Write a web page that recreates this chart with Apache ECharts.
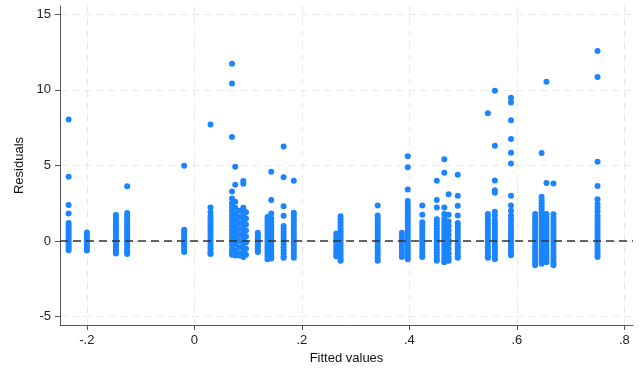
<!DOCTYPE html>
<html>
<head>
<meta charset="utf-8">
<script src="https://cdn.jsdelivr.net/npm/echarts@6/dist/echarts.min.js"></script>
<style>
  html, body { margin: 0; padding: 0; background: #fff; }
  #chart { width: 642px; height: 371px; }
</style>
</head>
<body>
<div id="chart"></div>
<script>
// Fitted value of each group of observations
const fittedValues = [
  -0.234, -0.2, -0.146, -0.125, -0.019, 0.03,
  0.07, 0.076, 0.083, 0.091, 0.096,
  0.118, 0.136, 0.143, 0.166, 0.185,
  0.264, 0.272, 0.341, 0.386, 0.397, 0.424,
  0.451, 0.465, 0.473, 0.49,
  0.546, 0.559, 0.589, 0.634, 0.646, 0.655, 0.668, 0.75
];

// Residuals observed at each fitted value (same order as fittedValues)
const residualGroups = [
  [8.05, 4.25, 2.38, 1.82, 1.2, 1.05, 0.9, 0.75, 0.6, 0.45, 0.3, 0.15, 0.0, -0.15, -0.3, -0.45, -0.6],
  [0.57, 0.4, 0.25, 0.1, -0.05, -0.2, -0.35, -0.5, -0.62],
  [1.72, 1.55, 1.4, 1.25, 1.1, 0.95, 0.8, 0.65, 0.5, 0.35, 0.2, 0.05, -0.1, -0.25, -0.4, -0.55, -0.7, -0.82],
  [3.62, 1.85, 1.7, 1.55, 1.35, 1.2, 1.05, 0.9, 0.75, 0.6, 0.45, 0.3, 0.15, 0.0, -0.15, -0.3, -0.45, -0.6, -0.75, -0.85],
  [4.98, 0.75, 0.6, 0.45, 0.3, 0.15, 0.0, -0.15, -0.3, -0.45, -0.6, -0.72],
  [7.72, 2.22, 1.9, 1.65, 1.45, 1.25, 1.05, 0.85, 0.65, 0.45, 0.25, 0.05, -0.15, -0.35, -0.55, -0.75, -0.85],
  [11.73, 10.43, 6.88, 3.28, 2.82, 2.5, 2.25, 2.0, 1.75, 1.5, 1.25, 1.0, 0.75, 0.5, 0.25, 0.0, -0.25, -0.5, -0.75, -0.9],
  [4.91, 3.72, 2.6, 2.2, 1.8, 1.4, 1.0, 0.6, 0.2, -0.2, -0.6, -0.95],
  [2.0, 1.6, 1.2, 0.8, 0.4, 0.0, -0.4, -0.8, -0.95],
  [3.97, 3.8, 2.2, 2.05, 1.8, 1.55, 1.3, 1.05, 0.8, 0.55, 0.3, 0.05, -0.2, -0.45, -0.7, -0.95, -1.05],
  [1.9, 1.5, 1.1, 0.7, 0.3, -0.1, -0.5, -0.9],
  [0.55, 0.4, 0.25, 0.1, -0.05, -0.2, -0.35, -0.5, -0.65, -0.72],
  [1.6, 1.4, 1.2, 1.0, 0.8, 0.6, 0.4, 0.2, 0.0, -0.2, -0.4, -0.6, -0.8, -1.0, -1.2],
  [4.58, 2.71, 1.83, 1.5, 1.3, 1.1, 0.9, 0.7, 0.5, 0.3, 0.1, -0.1, -0.3, -0.5, -0.7, -0.9, -1.1, -1.15],
  [6.26, 4.23, 2.31, 1.67, 1.0, 0.8, 0.6, 0.4, 0.2, 0.0, -0.2, -0.4, -0.6, -0.8, -1.0, -1.1],
  [3.99, 1.87, 1.7, 1.5, 1.3, 1.1, 0.9, 0.7, 0.5, 0.3, 0.1, -0.1, -0.3, -0.5, -0.7, -0.9, -1.1],
  [0.5, 0.3, 0.1, -0.1, -0.3, -0.5, -0.7, -0.9, -1.0],
  [1.65, 1.45, 1.25, 1.05, 0.85, 0.65, 0.45, 0.25, 0.05, -0.15, -0.35, -0.55, -0.75, -0.95, -1.15, -1.3],
  [2.36, 1.7, 1.5, 1.3, 1.1, 0.9, 0.7, 0.5, 0.3, 0.1, -0.1, -0.3, -0.5, -0.7, -0.9, -1.1, -1.3],
  [0.55, 0.35, 0.15, -0.05, -0.25, -0.45, -0.65, -0.85, -1.05],
  [5.62, 4.89, 3.42, 2.65, 2.4, 2.2, 2.0, 1.8, 1.6, 1.4, 1.2, 1.0, 0.8, 0.6, 0.4, 0.2, 0.0, -0.2, -0.4, -0.6, -0.8, -1.0, -1.2],
  [2.36, 1.74, 1.25, 1.05, 0.85, 0.65, 0.45, 0.25, 0.05, -0.15, -0.35, -0.55, -0.75, -0.95, -1.05],
  [3.99, 2.71, 2.23, 1.45, 1.25, 1.05, 0.85, 0.65, 0.45, 0.25, 0.05, -0.15, -0.35, -0.55, -0.75, -0.95, -1.15, -1.3],
  [5.42, 4.52, 2.23, 1.8, 1.5, 1.3, 1.1, 0.9, 0.7, 0.5, 0.3, 0.1, -0.1, -0.3, -0.5, -0.7, -0.9, -1.1, -1.3, -1.4],
  [3.1, 1.74, 1.3, 1.0, 0.7, 0.4, 0.1, -0.2, -0.5, -0.8, -1.1, -1.3],
  [4.39, 3.0, 2.34, 1.7, 1.2, 1.0, 0.8, 0.6, 0.4, 0.2, 0.0, -0.2, -0.4, -0.6, -0.8, -1.0, -1.1],
  [8.45, 1.79, 1.6, 1.4, 1.2, 1.0, 0.8, 0.6, 0.4, 0.2, 0.0, -0.2, -0.4, -0.6, -0.8, -1.0, -1.1],
  [9.94, 6.3, 4.01, 3.37, 3.2, 1.94, 1.7, 1.4, 1.2, 1.0, 0.8, 0.6, 0.4, 0.2, 0.0, -0.2, -0.4, -0.6, -0.8, -1.0, -1.2],
  [9.48, 9.17, 8.0, 6.75, 5.84, 5.14, 3.0, 2.36, 2.0, 1.7, 1.45, 1.2, 0.95, 0.75, 0.55, 0.35, 0.15, -0.05, -0.25, -0.45, -0.65, -0.8, -0.93],
  [1.79, 1.6, 1.4, 1.2, 1.0, 0.8, 0.6, 0.4, 0.2, 0.0, -0.2, -0.4, -0.6, -0.8, -1.0, -1.2, -1.4, -1.6],
  [5.82, 2.93, 2.7, 2.5, 2.3, 2.1, 1.9, 1.7, 1.5, 1.3, 1.1, 0.9, 0.7, 0.5, 0.3, 0.1, -0.1, -0.3, -0.5, -0.7, -0.9, -1.1, -1.3, -1.5],
  [10.54, 3.84, 1.8, 1.6, 1.4, 1.2, 1.0, 0.8, 0.6, 0.4, 0.2, 0.0, -0.2, -0.4, -0.6, -0.8, -1.0, -1.2, -1.4],
  [3.81, 1.77, 1.55, 1.35, 1.15, 0.95, 0.75, 0.55, 0.35, 0.15, -0.05, -0.25, -0.45, -0.65, -0.85, -1.05, -1.25, -1.45, -1.6],
  [12.57, 10.85, 5.25, 3.64, 2.77, 2.45, 2.2, 1.95, 1.7, 1.5, 1.3, 1.1, 0.9, 0.7, 0.5, 0.3, 0.1, -0.1, -0.3, -0.5, -0.7, -0.9, -1.05]
];

// Axis tick positions
const xTicks = [-0.2, 0, 0.2, 0.4, 0.6, 0.8];
const yTicks = [-5, 0, 5, 10, 15];

const points = [];
fittedValues.forEach((fx, i) => {
  residualGroups[i].forEach(r => points.push([fx, r]));
});

// Stata-style number labels: leading zero dropped (".2", "-.2")
function stataFmt(v) {
  const s = String(Math.round(v * 1000) / 1000);
  return s.replace(/^(-?)0\./, '$1.');
}

const font = '"Liberation Sans", Arial, Helvetica, sans-serif';
const gridLine = { show: true, lineStyle: { color: '#e9e9e9', width: 1, type: [7, 5] } };

const chart = echarts.init(document.getElementById('chart'), null, { renderer: 'canvas' });
chart.setOption({
  animation: false,
  backgroundColor: '#fff',
  grid: { left: 60, right: 9, top: 6, bottom: 46, containLabel: false },
  xAxis: {
    type: 'value',
    min: -0.25,
    max: 0.816,
    name: 'Fitted values',
    nameLocation: 'middle',
    nameGap: 26,
    nameTextStyle: { color: '#111', fontSize: 13, fontFamily: font },
    axisLine: { show: true, onZero: false, lineStyle: { color: '#555', width: 1 } },
    axisTick: { show: true, length: 5, customValues: xTicks, lineStyle: { color: '#555' } },
    axisLabel: { customValues: xTicks, formatter: stataFmt, color: '#222', fontSize: 13, fontFamily: font, margin: 9 },
    splitLine: gridLine
  },
  yAxis: {
    type: 'value',
    min: -5.55,
    max: 15.55,
    name: 'Residuals',
    nameLocation: 'middle',
    nameGap: 31,
    nameRotate: 90,
    nameTextStyle: { color: '#111', fontSize: 13, fontFamily: font },
    axisLine: { show: true, onZero: false, lineStyle: { color: '#555', width: 1 } },
    axisTick: { show: true, length: 5, customValues: yTicks, lineStyle: { color: '#555' } },
    axisLabel: { customValues: yTicks, formatter: stataFmt, color: '#222', fontSize: 13, fontFamily: font, margin: 9 },
    splitLine: gridLine
  },
  series: [
    {
      // reference line at zero residual
      type: 'line',
      data: [],
      z: 1,
      markLine: {
        silent: true,
        symbol: ['none', 'none'],
        label: { show: false },
        lineStyle: { color: '#333', width: 1.5, type: [8, 5] },
        data: [{ yAxis: 0 }]
      }
    },
    {
      type: 'scatter',
      data: points,
      symbol: 'circle',
      symbolSize: 6,
      z: 3,
      itemStyle: { color: '#1a85ff', opacity: 1 }
    }
  ]
});
</script>
</body>
</html>
